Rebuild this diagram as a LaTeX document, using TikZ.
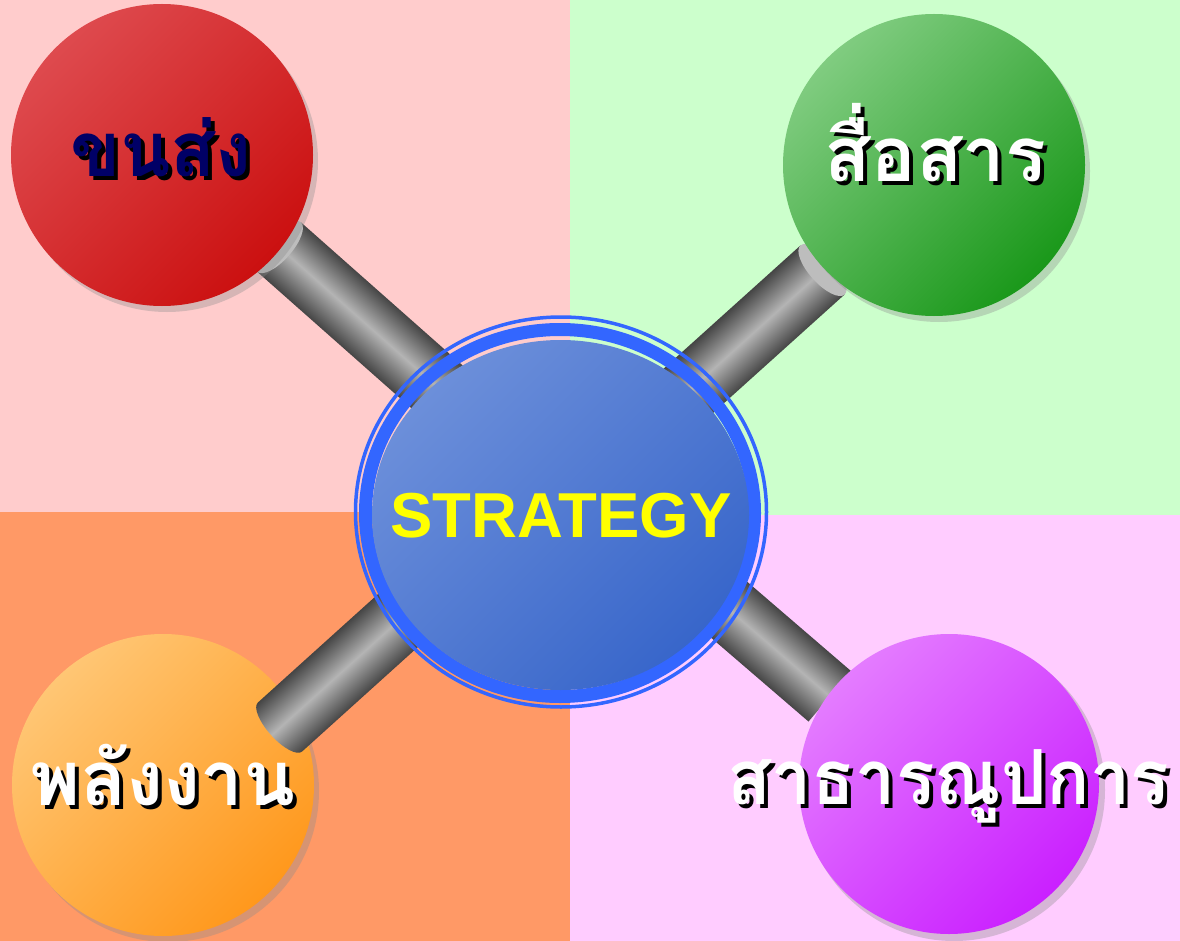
\documentclass[tikz,border=0pt]{standalone}
\usepackage{fontspec}
\newfontfamily\thaifont[Script=Thai]{Loma}
\newfontfamily\arialfont{Liberation Sans}
\usetikzlibrary{calc,shapes.geometric}
\definecolor{bgpink}{HTML}{FFCCCC}
\definecolor{bggreen}{HTML}{CCFFCC}
\definecolor{bgorange}{HTML}{FF9966}
\definecolor{bgviolet}{HTML}{FFCCFF}
\definecolor{bardark}{HTML}{454545}
\definecolor{barlight}{HTML}{B4B4B4}
\definecolor{capgray}{HTML}{BDBDBD}
\definecolor{ringblue}{HTML}{3366FF}
\definecolor{coreA}{HTML}{6C8FDA}
\definecolor{coreB}{HTML}{3866CA}
\definecolor{redA}{HTML}{DE4A4E}
\definecolor{redB}{HTML}{CB1010}
\definecolor{greenA}{HTML}{80CC80}
\definecolor{greenB}{HTML}{1A981A}
\definecolor{orangeA}{HTML}{FFC674}
\definecolor{orangeB}{HTML}{FF981C}
\definecolor{violetA}{HTML}{E47CFF}
\definecolor{violetB}{HTML}{CA20FF}
\definecolor{navytext}{HTML}{000066}
\definecolor{stratyellow}{HTML}{FFFF00}
\tikzset{
  ball/.style={circle, inner sep=0pt, minimum size=302pt},
  ballshadow/.style={circle, inner sep=0pt, minimum size=302pt, fill=black!45, opacity=0.35},
  barbody/.style={top color=bardark, bottom color=bardark, middle color=barlight},
  barcap/.style={fill=capgray},
  thaitext/.style={font=\thaifont\bfseries\fontsize{76}{80}\selectfont, inner sep=0pt, anchor=base},
}
\newcommand\shadowedlabel[4]{%
  \node[thaitext, text=black] at ($(#2)+(4,4)$) {#4};
  \node[thaitext, text=#3] (#1) at (#2) {#4};}
\begin{document}
\begin{tikzpicture}[x=1pt,y=-1pt]
\useasboundingbox (0,0) rectangle (1180,941);
% background quadrants
\fill[bgpink] (0,0) rectangle (570,512);
\fill[bggreen] (570,0) rectangle (1180,515);
\fill[bgorange] (0,512) rectangle (570,941);
\fill[bgviolet] (570,515) rectangle (1180,941);
% node centres
\coordinate (redc) at (162,155);
\coordinate (greenc) at (934,165);
\coordinate (orangec) at (163,785);
\coordinate (violetc) at (949,784);
\coordinate (corec) at (560.5,515);
% bar ends at the outer balls
\coordinate (tlE) at (279,247);
\coordinate (trE) at (822.5,270);
\coordinate (blE) at (280,727);
\coordinate (brE) at (830,696.5);
% bars under the balls
\begin{scope}[transform canvas={shift={(279,247)},rotate=-41.5}]
  \shade[barbody] (0,-33) rectangle (260,33);
  \fill[barcap] (0,0) ellipse [x radius=13, y radius=33];
\end{scope}
\begin{scope}[transform canvas={shift={(822.5,270)},rotate=-138}]
  \shade[barbody] (0,-33) rectangle (240,33);
  \fill[barcap] (0,0) ellipse [x radius=13, y radius=33];
\end{scope}
\begin{scope}[transform canvas={shift={(830,696.5)},rotate=139.3}]
  \shade[barbody] (0,-33) rectangle (230,33);
\end{scope}
% shadows
\node[ballshadow] (redsh) at ($(redc)+(5,6)$) {};
\node[ballshadow] (greensh) at ($(greenc)+(5,6)$) {};
\node[ballshadow] (orangesh) at ($(orangec)+(5,6)$) {};
\node[ballshadow] (violetsh) at ($(violetc)+(5,6)$) {};
% balls
\node[ball, top color=redA, bottom color=redB, shading angle=45] (red) at (redc) {};
\node[ball, top color=greenA, bottom color=greenB, shading angle=45] (green) at (greenc) {};
\node[ball, top color=orangeA, bottom color=orangeB, shading angle=45] (orange) at (orangec) {};
\node[ball, top color=violetA, bottom color=violetB, shading angle=45, minimum size=300pt] (violet) at (violetc) {};
% bar over the orange ball
\begin{scope}[transform canvas={shift={(280,727)},rotate=42.06}]
  \shade[barbody] (0,-33) -- (220,-33) -- (220,33) -- (0,33)
    arc[start angle=90, end angle=270, x radius=12, y radius=33] -- cycle;
\end{scope}
% centre
\draw[ringblue, line width=3.5pt] (561,512) ellipse [x radius=205.5, y radius=195];
\draw[ringblue, line width=13pt] (560,513) ellipse [x radius=194.5, y radius=183.5];
\node[ellipse, inner sep=0pt, minimum width=377pt, minimum height=350pt,
      top color=coreA, bottom color=coreB, shading angle=45] (core) at (corec) {};
\node[font=\arialfont\bfseries\fontsize{63.5}{66}\selectfont, text=stratyellow, inner sep=0pt, anchor=base]
  (strat) at (561,537) {STRATEGY};
% labels
\shadowedlabel{lblred}{161,177}{navytext}{\scalebox{0.97}[1]{ขนส่ง}}
\shadowedlabel{lblgreen}{935,182}{white}{สื่อสาร}
\shadowedlabel{lblorange}{163,805}{white}{พลังงาน}
\shadowedlabel{lblviolet}{948.5,804}{white}{\scalebox{0.945}[1]{สาธารณูปการ}}
\end{tikzpicture}
\end{document}
